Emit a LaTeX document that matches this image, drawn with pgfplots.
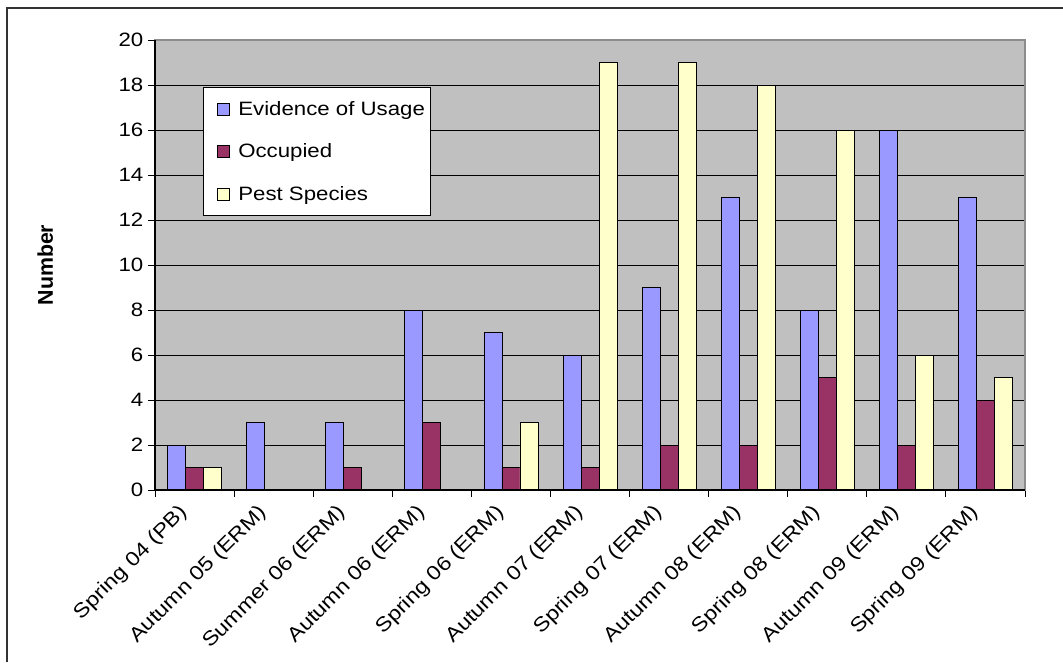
\documentclass[border=0pt]{standalone}
\usepackage{pgfplots}
\pgfplotsset{compat=1.18}
\usepackage{fontspec}
\setmainfont{Liberation Sans}[FakeStretch=1.15]
\newfontfamily\labelfont{Liberation Sans}
\definecolor{bgray}{HTML}{C0C0C0}
\definecolor{cblue}{HTML}{9999FF}
\definecolor{cmaroon}{HTML}{993366}
\definecolor{cyellow}{HTML}{FFFFCC}
\definecolor{edgegray}{HTML}{8C8C8C}
\begin{document}
\begin{tikzpicture}
\useasboundingbox (0,0) rectangle (797.25pt,-496.5pt);
\fill[white] (0,0) rectangle (797.25pt,-496.5pt);
\draw[line width=1.5pt, color=black!80] (5.25pt,-496.5pt) -- (5.25pt,-6pt) -- (797.25pt,-6pt);
\begin{axis}[
  at={(116.25pt,-367.5pt)}, anchor=south west,
  scale only axis, width=652.5pt, height=337.5pt,
  xmin=-0.5, xmax=10.5, ymin=0, ymax=20,
  ybar=0pt, bar width=13.5pt,
  ytick={0,2,...,20},
  xtick={0,...,10},
  xticklabels={Spring 04 (PB),Autumn 05 (ERM),Summer 06 (ERM),Autumn 06 (ERM),Spring 06 (ERM),Autumn 07 (ERM),Spring 07 (ERM),Autumn 08 (ERM),Spring 08 (ERM),Autumn 09 (ERM),Spring 09 (ERM)},
  tick pos=left,
  major x tick style={draw=none},
  minor xtick={-0.5,0.5,...,10.5},
  minor x tick style={black, line width=0.75pt},
  major y tick style={black, line width=0.75pt},
  tick align=outside, major tick length=5.25pt, minor tick length=5.25pt,
  ymajorgrids, grid style={black, line width=0.75pt},
  axis background/.style={fill=bgray},
  axis line style={edgegray, line width=1pt},
  /pgf/number format/assume math mode=true,
  yticklabel style={font=\fontsize{14.5}{16}\selectfont},
  xticklabel style={xshift=-5pt, yshift=-7pt, rotate=45, anchor=east, font=\fontsize{15}{17}\selectfont},
  ylabel={Number},
  ylabel style={at={(axis description cs:-0.126,0.5)}, anchor=center, font=\labelfont\bfseries\fontsize{16}{18}\selectfont},
  legend style={at={(axis cs:0.107,17.9)}, anchor=north west, draw=black, line width=0.75pt, fill=white, font=\fontsize{14.5}{16}\selectfont, row sep=16pt, inner xsep=2pt, inner ysep=8pt},
  legend cell align=left,
  clip=false,
]
\addplot[fill=cblue, draw=black, line width=0.6pt, legend image code/.code={\path (0pt,0pt); \draw[fill=cblue,draw=black,line width=0.6pt] (8pt,-4.5pt) rectangle (17pt,4.5pt); \path (21.5pt,0pt);}] coordinates {(0,2) (1,3) (2,3) (3,8) (4,7) (5,6) (6,9) (7,13) (8,8) (9,16) (10,13)};
\addplot[fill=cmaroon, draw=black, line width=0.6pt, legend image code/.code={\path (0pt,0pt); \draw[fill=cmaroon,draw=black,line width=0.6pt] (8pt,-4.5pt) rectangle (17pt,4.5pt); \path (21.5pt,0pt);}] coordinates {(0,1) (1,0) (2,1) (3,3) (4,1) (5,1) (6,2) (7,2) (8,5) (9,2) (10,4)};
\addplot[fill=cyellow, draw=black, line width=0.6pt, legend image code/.code={\path (0pt,0pt); \draw[fill=cyellow,draw=black,line width=0.6pt] (8pt,-4.5pt) rectangle (17pt,4.5pt); \path (21.5pt,0pt);}] coordinates {(0,1) (1,0) (2,0) (3,0) (4,3) (5,19) (6,19) (7,18) (8,16) (9,6) (10,5)};
\legend{Evidence of Usage,Occupied,Pest Species}
\draw[black, line width=1pt] (rel axis cs:0,1) -- (rel axis cs:0,0) -- (rel axis cs:1,0);
\end{axis}
\end{tikzpicture}
\end{document}
